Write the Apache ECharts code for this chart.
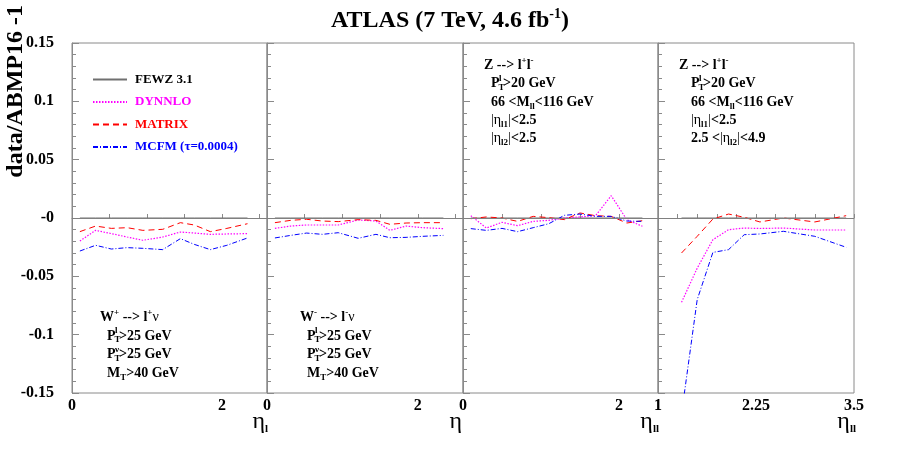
<!DOCTYPE html>
<html>
<head>
<meta charset="utf-8">
<script src="https://cdn.jsdelivr.net/npm/echarts@6/dist/echarts.min.js"></script>
<style>
  html, body { margin: 0; padding: 0; background: #fff; }
  #main { width: 899px; height: 450px; }
</style>
</head>
<body>
<div id="main"></div>
<script>
// bin centres
var W_ETA = [0.105, 0.315, 0.525, 0.735, 0.945, 1.21, 1.445, 1.63, 1.845, 2.065, 2.34];
var ZC_Y = [0.1, 0.3, 0.5, 0.7, 0.9, 1.1, 1.3, 1.5, 1.7, 1.9, 2.1, 2.3];
var ZF_Y = [1.3, 1.5, 1.7, 1.9, 2.1, 2.3, 2.6, 3.0, 3.4];

// W+ -> l+ nu
var WP_DYNNLO = [-0.0197, -0.0106, -0.0134, -0.0163, -0.0191, -0.0163, -0.0120, -0.0129, -0.0140, -0.0137, -0.0134];
var WP_MATRIX = [-0.0117, -0.0069, -0.0089, -0.0083, -0.0106, -0.0097, -0.0040, -0.0060, -0.0117, -0.0089, -0.0049];
var WP_MCFM   = [-0.0283, -0.0234, -0.0266, -0.0254, -0.0260, -0.0271, -0.0177, -0.0226, -0.0271, -0.0234, -0.0171];

// W- -> l- nu
var WM_DYNNLO = [-0.0089, -0.0069, -0.0060, -0.0060, -0.0060, -0.0017, -0.0026, -0.0106, -0.0069, -0.0083, -0.0091];
var WM_MATRIX = [-0.0040, -0.0020, -0.0011, -0.0026, -0.0031, -0.0014, -0.0020, -0.0054, -0.0043, -0.0040, -0.0040];
var WM_MCFM   = [-0.0171, -0.0149, -0.0129, -0.0140, -0.0126, -0.0174, -0.0140, -0.0169, -0.0166, -0.0157, -0.0149];

// Z central
var ZC_DYNNLO = [0.0020, -0.0086, -0.0037, -0.0066, -0.0029, -0.0020, 0.0000, 0.0009, 0.0020, 0.0191, -0.0014, -0.0071];
var ZC_MATRIX = [-0.0006, 0.0009, 0.0000, -0.0029, 0.0014, 0.0003, -0.0014, 0.0043, 0.0020, 0.0014, -0.0043, -0.0023];
var ZC_MCFM   = [-0.0091, -0.0106, -0.0089, -0.0117, -0.0083, -0.0049, 0.0023, 0.0034, 0.0014, 0.0014, -0.0026, -0.0029];

// Z forward
var ZF_DYNNLO = [-0.0723, -0.0430, -0.0186, -0.0100, -0.0086, -0.0090, -0.0086, -0.0103, -0.0103];
var ZF_MATRIX = [-0.0300, -0.0157, -0.0009, 0.0034, 0.0006, -0.0034, 0.0000, -0.0034, 0.0020];
var ZF_MCFM   = [-0.1680, -0.0700, -0.0295, -0.0271, -0.0143, -0.0137, -0.0114, -0.0157, -0.0251];

var FEWZ_LEVEL = 0;

var X_LABELS = [[0, 2], [0, 2], [0, 2], [1, 2.25, 3.5]];
var Y_LABELS = ['-0.15', '-0.1', '-0.05', '-0', '0.05', '0.1', '0.15'];

var NAMES = ['FEWZ 3.1', 'DYNNLO', 'MATRIX', 'MCFM (\u03c4=0.0004)'];

var SERIF = '"Liberation Serif", "Times New Roman", serif';
var GREY = '#8a8a8a';

var chart = echarts.init(document.getElementById('main'));

var panels = [
  { x: W_ETA, dyn: WP_DYNNLO, mat: WP_MATRIX, mcfm: WP_MCFM, min: 0, max: 2.6, step: 0.5, left: 72, width: 195 },
  { x: W_ETA, dyn: WM_DYNNLO, mat: WM_MATRIX, mcfm: WM_MCFM, min: 0, max: 2.6, step: 0.5, left: 267, width: 196 },
  { x: ZC_Y, dyn: ZC_DYNNLO, mat: ZC_MATRIX, mcfm: ZC_MCFM, min: 0, max: 2.5, step: 0.5, left: 463, width: 195 },
  { x: ZF_Y, dyn: ZF_DYNNLO, mat: ZF_MATRIX, mcfm: ZF_MCFM, min: 1, max: 3.5, step: 0.25, left: 658, width: 196 }
];

function pairs(xs, ys) {
  return xs.map(function (x, i) { return [x, ys[i]]; });
}

var grids = [], xAxes = [], yAxes = [], series = [];

panels.forEach(function (p, i) {
  grids.push({ left: p.left, top: 43, width: p.width, height: 350, show: true,
    borderColor: GREY, borderWidth: 1, backgroundColor: 'transparent' });

  var labs = X_LABELS[i];
  xAxes.push({
    type: 'value', gridIndex: i, min: p.min, max: p.max, interval: p.step,
    axisLine: { show: true, lineStyle: { color: GREY } },
    axisTick: { show: true, inside: true, length: 4, lineStyle: { color: GREY } },
    splitLine: { show: false },
    axisLabel: {
      margin: 5, color: '#000', fontFamily: SERIF, fontWeight: 'bold', fontSize: 16,
      formatter: function (v) {
        for (var k = 0; k < labs.length; k++) {
          if (Math.abs(v - labs[k]) < 1e-6) return String(labs[k]);
        }
        return '';
      }
    }
  });

  yAxes.push({
    type: 'value', gridIndex: i, min: -0.15, max: 0.15, interval: 0.05,
    axisLine: { show: true, lineStyle: { color: GREY } },
    axisTick: { show: true, inside: true, length: 7, lineStyle: { color: GREY } },
    minorTick: { show: true, splitNumber: 5, length: 4, lineStyle: { color: GREY } },
    splitLine: { show: false },
    axisLabel: {
      show: i === 0, margin: 18, color: '#000', fontFamily: SERIF, fontWeight: 'bold', fontSize: 16,
      formatter: function (v) { return Y_LABELS[Math.round((v + 0.15) / 0.05)]; }
    }
  });

  var zeros = p.x.map(function () { return FEWZ_LEVEL; });
  series.push({
    name: NAMES[0], type: 'line', xAxisIndex: i, yAxisIndex: i, symbol: 'none', silent: true,
    data: pairs(p.x, zeros), lineStyle: { color: '#707070', width: 1 }, itemStyle: { color: '#707070' },
    markLine: { silent: true, symbol: 'none', label: { show: false },
      lineStyle: { color: '#808080', width: 1, type: 'solid' }, data: [{ yAxis: FEWZ_LEVEL }] }
  });
  series.push({
    name: NAMES[1], type: 'line', xAxisIndex: i, yAxisIndex: i, symbol: 'none', silent: true,
    data: pairs(p.x, p.dyn), lineStyle: { color: '#ff00ff', width: 1.2, type: [1.5, 1.5] }, itemStyle: { color: '#ff00ff' }
  });
  series.push({
    name: NAMES[2], type: 'line', xAxisIndex: i, yAxisIndex: i, symbol: 'none', silent: true,
    data: pairs(p.x, p.mat), lineStyle: { color: '#ff0000', width: 1, type: [6, 4] }, itemStyle: { color: '#ff0000' }
  });
  series.push({
    name: NAMES[3], type: 'line', xAxisIndex: i, yAxisIndex: i, symbol: 'none', silent: true,
    data: pairs(p.x, p.mcfm), lineStyle: { color: '#0000ff', width: 1, type: [5, 2, 1, 2] }, itemStyle: { color: '#0000ff' }
  });
});

var RICH = {
  b: { fontFamily: SERIF, fontWeight: 'bold', fontSize: 14, fill: '#000', lineHeight: 18 },
  n: { fontFamily: SERIF, fontWeight: 'normal', fontSize: 14, fill: '#000', lineHeight: 18 },
  sup: { fontFamily: SERIF, fontWeight: 'bold', fontSize: 9, fill: '#000', verticalAlign: 'top', lineHeight: 9 },
  sub: { fontFamily: SERIF, fontWeight: 'bold', fontSize: 9, fill: '#000', verticalAlign: 'bottom', lineHeight: 9 }
};

function line(x, y, text) {
  return { type: 'text', x: x, y: y, silent: true,
    style: { text: text, rich: RICH, align: 'left', verticalAlign: 'middle' } };
}

// P with stacked super/subscript
function ptLine(x, y, sup, rest) {
  var base = { fontFamily: SERIF, fontWeight: 'bold', fill: '#000', verticalAlign: 'middle', align: 'left' };
  return [
    { type: 'text', x: x, y: y, silent: true, style: Object.assign({ text: 'P', fontSize: 14 }, base) },
    { type: 'text', x: x + 8, y: y - 5, silent: true, style: Object.assign({ text: sup, fontSize: 9 }, base) },
    { type: 'text', x: x + 7.5, y: y + 4, silent: true, style: Object.assign({ text: 'T', fontSize: 9 }, base) },
    { type: 'text', x: x + 12, y: y, silent: true, style: Object.assign({ text: rest, fontSize: 14 }, base) }
  ];
}

function axisName(xRight, sub) {
  return { type: 'text', x: xRight, y: 422, silent: true,
    style: { text: '{e|\u03b7}' + (sub ? '{s|' + sub + '}' : ''), align: 'right', verticalAlign: 'middle',
      rich: {
        e: { fontFamily: SERIF, fontSize: 24, fill: '#000', lineHeight: 26 },
        s: { fontFamily: SERIF, fontWeight: 'bold', fontSize: 11, fill: '#000', verticalAlign: 'bottom', lineHeight: 11 }
      } } };
}

var graphics = [
  { type: 'text', x: 450, y: 21, silent: true,
    style: { text: '{a|ATLAS (7 TeV, 4.6 fb}{s|-1}{a|)}', align: 'center', verticalAlign: 'middle',
      rich: {
        a: { fontFamily: SERIF, fontWeight: 'bold', fontSize: 24, fill: '#000', lineHeight: 28 },
        s: { fontFamily: SERIF, fontWeight: 'bold', fontSize: 14, fill: '#000', verticalAlign: 'top', lineHeight: 14 }
      } } },
  { type: 'text', x: 16, y: 5, rotation: Math.PI / 2, silent: true,
    style: { text: 'data/ABMP16 -1', fontFamily: SERIF, fontWeight: 'bold', fontSize: 24, fill: '#000',
      align: 'right', verticalAlign: 'middle' } },

  line(100, 317, '{b|W}{sup|+}{b| --> l}{sup|+}{n|\u03bd}'),
  line(107, 373, '{b|M}{sub|T}{b|>40 GeV}'),

  line(300, 317, '{b|W}{sup|-}{b| --> l}{sup|-}{n|\u03bd}'),
  line(307, 373, '{b|M}{sub|T}{b|>40 GeV}'),

  line(484, 65, '{b|Z --> l}{sup|+}{b|l}{sup|-}'),
  line(491, 102, '{b|66 <M}{sub|ll}{b|<116 GeV}'),
  line(491, 120, '{n||\u03b7}{sub|l1}{n||}{b|<2.5}'),
  line(491, 138, '{n||\u03b7}{sub|l2}{n||}{b|<2.5}'),

  line(679, 65, '{b|Z --> l}{sup|+}{b|l}{sup|-}'),
  line(691, 102, '{b|66 <M}{sub|ll}{b|<116 GeV}'),
  line(691, 120, '{n||\u03b7}{sub|l1}{n||}{b|<2.5}'),
  line(691, 138, '{b|2.5 <}{n||\u03b7}{sub|l2}{n||}{b|<4.9}'),

  axisName(268, 'l'),
  axisName(462, ''),
  axisName(659, 'll'),
  axisName(856, 'll')
];
graphics = graphics
  .concat(ptLine(107, 336, 'l', '>25 GeV'))
  .concat(ptLine(107, 354.5, '\u03bd', '>25 GeV'))
  .concat(ptLine(307, 336, 'l', '>25 GeV'))
  .concat(ptLine(307, 354.5, '\u03bd', '>25 GeV'))
  .concat(ptLine(491, 83.5, 'l', '>20 GeV'))
  .concat(ptLine(691, 83.5, 'l', '>20 GeV'));

var option = {
  animation: false,
  backgroundColor: '#fff',
  grid: grids,
  xAxis: xAxes,
  yAxis: yAxes,
  legend: {
    show: true, orient: 'vertical', left: 87, top: 68, itemWidth: 34, itemHeight: 14, itemGap: 9.5,
    selectedMode: false,
    itemStyle: { opacity: 0 },
    textStyle: { fontFamily: SERIF, fontWeight: 'bold', fontSize: 13, padding: [0, 0, 0, 3] },
    data: [
      { name: NAMES[0], textStyle: { color: '#000' } },
      { name: NAMES[1], textStyle: { color: '#ff00ff' } },
      { name: NAMES[2], textStyle: { color: '#ff0000' } },
      { name: NAMES[3], textStyle: { color: '#0000ff' } }
    ]
  },
  graphic: graphics,
  series: series
};

chart.setOption(option);
</script>
</body>
</html>
